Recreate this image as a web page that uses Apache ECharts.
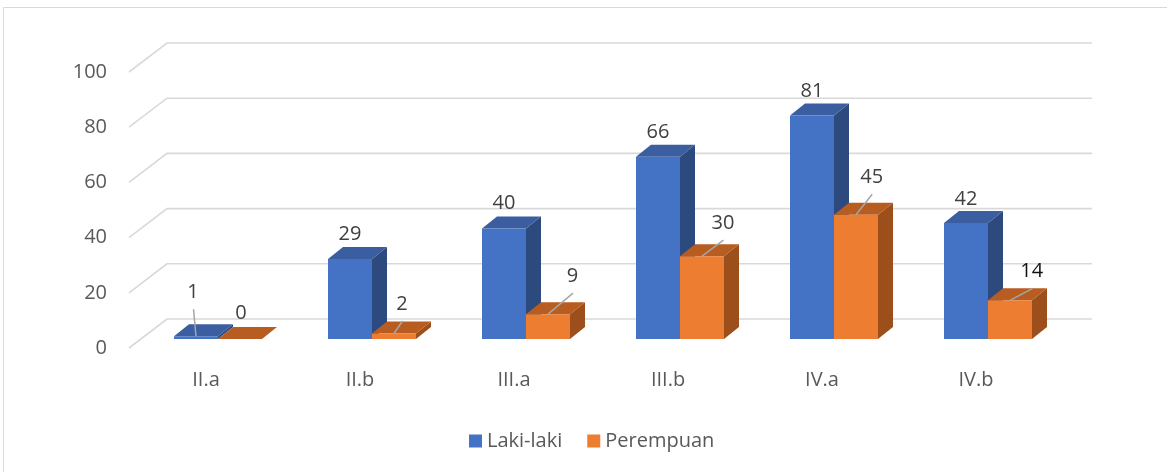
<!DOCTYPE html>
<html><head><meta charset="utf-8">
<script src="https://cdn.jsdelivr.net/npm/echarts@6/dist/echarts.min.js"></script>
<style>html,body{margin:0;padding:0;background:#fff}#c{width:1167px;height:472px}</style>
</head><body><div id="c"></div>
<script>
// ---- data ----
const categories = ['II.a', 'II.b', 'III.a', 'III.b', 'IV.a', 'IV.b'];
const lakiLaki = [1, 29, 40, 66, 81, 42];
const perempuan = [0, 2, 9, 30, 45, 14];
const yTicks = [0, 20, 40, 60, 80, 100];
const seriesNames = ['Laki-laki', 'Perempuan'];

// ---- styling / layout (not data) ----
const FONT = '"Open Sans", "DejaVu Sans", sans-serif';
const DX = 15, DY = -12;          // bar depth offset
const BAR_FRAC = 44 / 154;        // bar width as fraction of category band
const faces = [
  { front: '#4472C4', top: '#3A5E9F', side: '#2D4A7E' },
  { front: '#ED7D31', top: '#B75D21', side: '#9D4F1B' }
];
// label offsets from bar front-top centre [dx, dy, leaderLine]
const labelOffsets = [
  [[-3, -44, true], [0, -25, false], [0, -25, false], [0, -25, false], [0, -24, false], [0, -24, false]],
  [[1, -26, false], [8, -29.5, true], [24.5, -38, true], [21, -33, true], [15.7, -37.5, true], [21.7, -28.7, true]]
];
const labelColors = [
  ['#404040', '#404040', '#404040', '#404040', '#404040', '#404040'],
  ['#404040', '#404040', '#404040', '#404040', '#404040', '#111111']
];

function barRenderer(si) {
  return function (params, api) {
    const ci = api.value(0), v = api.value(1);
    const base = api.coord([ci, 0]);
    const topP = api.coord([ci, v]);
    const band = api.size([1, 0])[0];
    const w = band * BAR_FRAC;
    const x0 = si === 0 ? base[0] - w : base[0];
    const x1 = x0 + w;
    const y0 = base[1], yt = topP[1];
    const f = faces[si];
    const children = [
      { type: 'polygon', shape: { points: [[x1, yt], [x1 + DX, yt + DY], [x1 + DX, y0 + DY], [x1, y0]] }, style: { fill: f.side } },
      { type: 'polygon', shape: { points: [[x0, yt], [x0 + DX, yt + DY], [x1 + DX, yt + DY], [x1, yt]] }, style: { fill: f.top } },
      { type: 'rect', shape: { x: x0, y: yt, width: w, height: Math.max(y0 - yt, 0) }, style: { fill: f.front } }
    ];
    const off = labelOffsets[si][params.dataIndex];
    const cx = (x0 + x1) / 2;
    const lx = cx + off[0], ly = yt + off[1];
    if (off[2]) {
      children.push({ type: 'line', shape: { x1: cx, y1: yt, x2: lx + 0.5, y2: ly + 17 }, style: { stroke: '#A6A6A6', lineWidth: 1.5 } });
    }
    children.push({
      type: 'text',
      style: { text: String(v), x: lx, y: ly, align: 'center', verticalAlign: 'middle',
        fontSize: 20, fontFamily: FONT, fill: labelColors[si][params.dataIndex] }
    });
    return { type: 'group', children: children };
  };
}

function gridRenderer(params, api) {
  const cs = params.coordSys;
  const y = api.coord([0, api.value(1)])[1];
  return {
    type: 'polyline',
    shape: { points: [[cs.x - 12, y + 9], [cs.x + 26, y - 20], [cs.x + cs.width + 27, y - 20]] },
    style: { stroke: '#D9D9D9', lineWidth: 1.6, fill: null }
  };
}

const chart = echarts.init(document.getElementById('c'));
chart.setOption({
  animation: false,
  backgroundColor: '#fff',
  graphic: [{ type: 'rect', silent: true, shape: { x: 3.5, y: 7.5, width: 1300, height: 600 }, style: { fill: null, stroke: '#D9D9D9', lineWidth: 1 } }],
  grid: [
    { left: 141, width: 924, top: 63, height: 276 },
    { left: 129, width: 924, top: 72, height: 276 }
  ],
  xAxis: [
    { gridIndex: 0, type: 'category', data: categories, show: false },
    { gridIndex: 1, type: 'category', data: categories, axisLine: { show: false }, axisTick: { show: false },
      axisLabel: { color: '#595959', fontSize: 20, fontFamily: FONT, margin: 22 } }
  ],
  yAxis: [
    { gridIndex: 0, type: 'value', min: 0, max: 100, interval: 20, show: false },
    { gridIndex: 1, type: 'value', min: 0, max: 100, interval: 20, axisLine: { show: false }, axisTick: { show: false },
      splitLine: { show: false }, axisLabel: { color: '#595959', fontSize: 20, fontFamily: FONT, margin: 22 } }
  ],
  legend: {
    data: seriesNames, icon: 'rect', itemWidth: 13, itemHeight: 13, itemGap: 25,
    left: 464, top: 426, textStyle: { color: '#595959', fontSize: 20, fontFamily: FONT }
  },
  series: [
    { type: 'custom', name: 'grid', xAxisIndex: 0, yAxisIndex: 0, z: 1, silent: true,
      data: yTicks.map(v => [0, v]), encode: { x: 0, y: 1 }, renderItem: gridRenderer },
    { type: 'custom', name: seriesNames[0], xAxisIndex: 0, yAxisIndex: 0, z: 2,
      itemStyle: { color: faces[0].front },
      data: lakiLaki.map((v, i) => [i, v]), encode: { x: 0, y: 1 }, renderItem: barRenderer(0) },
    { type: 'custom', name: seriesNames[1], xAxisIndex: 0, yAxisIndex: 0, z: 3,
      itemStyle: { color: faces[1].front },
      data: perempuan.map((v, i) => [i, v]), encode: { x: 0, y: 1 }, renderItem: barRenderer(1) }
  ]
});
</script></body></html>
